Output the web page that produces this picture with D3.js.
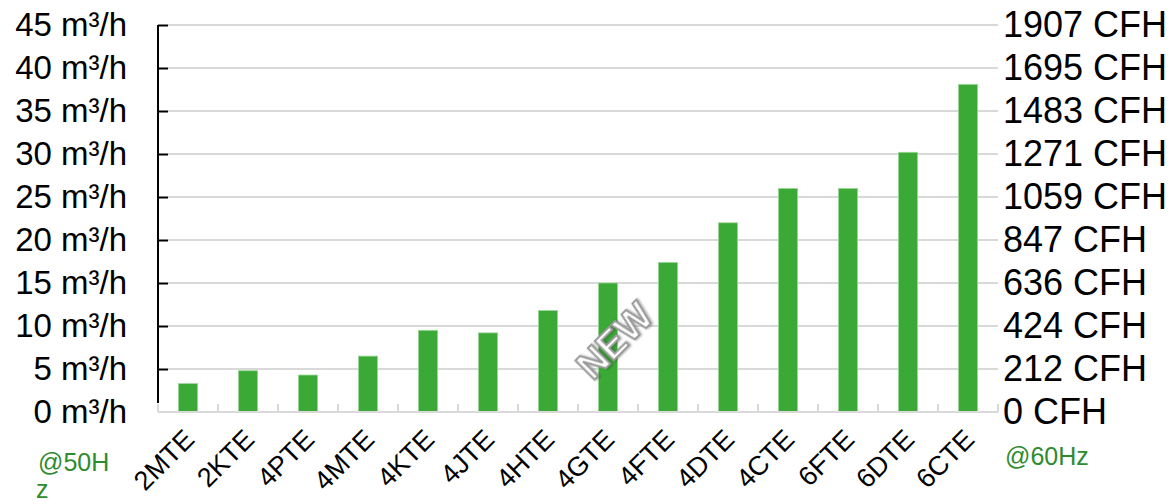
<!DOCTYPE html>
<html>
<head>
<meta charset="utf-8">
<script src="https://cdn.jsdelivr.net/npm/d3@7"></script>
<style>
  body { margin: 0; background: #fff; }
  text { font-family: "Liberation Sans", Arial, sans-serif; }
</style>
</head>
<body>
<svg id="chart" width="1171" height="504"></svg>
<script>
var models = ["2MTE", "2KTE", "4PTE", "4MTE", "4KTE", "4JTE", "4HTE", "4GTE", "4FTE", "4DTE", "4CTE", "6FTE", "6DTE", "6CTE"];
var flow = [3.3, 4.8, 4.3, 6.5, 9.5, 9.2, 11.8, 15.0, 17.4, 22.0, 26.0, 26.0, 30.2, 38.1];
var leftTicks = [0, 5, 10, 15, 20, 25, 30, 35, 40, 45];
var rightLabels = ["0 CFH", "212 CFH", "424 CFH", "636 CFH", "847 CFH", "1059 CFH", "1271 CFH", "1483 CFH", "1695 CFH", "1907 CFH"];

var barGreen = "#3aa935";
var textGreen = "#2e8b2e";
var gridGrey = "#d9d9d9";

var svg = d3.select("#chart"),
  margin = {top: 25, right: 173, bottom: 92, left: 158},
  width = +svg.attr("width") - margin.left - margin.right,
  height = +svg.attr("height") - margin.top - margin.bottom;

var g = svg.append("g")
    .attr("transform", "translate(" + margin.left + "," + margin.top + ")");

var x = d3.scaleBand()
    .domain(models)
    .range([0, width])
    .paddingInner(0.68)
    .paddingOuter(0.34);

var xCat = d3.scaleBand()
    .domain(models)
    .range([0, width]);

var y = d3.scaleLinear()
    .domain([0, 45])
    .range([height, 0]);

// gridlines
g.append("g")
  .selectAll("line")
  .data(leftTicks.slice(1))
  .enter().append("line")
    .attr("x1", 10)
    .attr("x2", width)
    .attr("y1", function(d) { return y(d); })
    .attr("y2", function(d) { return y(d); })
    .attr("stroke", gridGrey)
    .attr("stroke-width", 2);

// bars
g.append("g")
  .selectAll("rect")
  .data(flow)
  .enter().append("rect")
    .attr("x", function(d, i) { return x(models[i]); })
    .attr("y", function(d) { return y(d); })
    .attr("width", x.bandwidth())
    .attr("height", function(d) { return height - y(d); })
    .attr("fill", barGreen)
    .attr("stroke", "#9fd89b")
    .attr("stroke-width", 0.8);

// bottom axis (category separators)
var xAxis = g.append("g")
    .attr("transform", "translate(0," + height + ")");
xAxis.append("line")
    .attr("x1", 0).attr("x2", width)
    .attr("stroke", gridGrey)
    .attr("stroke-width", 2);
xAxis.selectAll(".sep")
  .data(models.concat(["end"]))
  .enter().append("line")
    .attr("class", "sep")
    .attr("x1", function(d, i) { return i * xCat.bandwidth(); })
    .attr("x2", function(d, i) { return i * xCat.bandwidth(); })
    .attr("y1", 0).attr("y2", -8)
    .attr("stroke", gridGrey)
    .attr("stroke-width", 2);

xAxis.selectAll(".lbl")
  .data(models)
  .enter().append("text")
    .attr("class", "lbl")
    .attr("text-anchor", "end")
    .attr("font-size", 27)
    .attr("fill", "#000")
    .attr("transform", function(d) {
      return "translate(" + (xCat(d) + xCat.bandwidth() / 2 + 8) + ",29) rotate(-45)";
    })
    .text(function(d) { return d; });

// left axis
var yAxis = d3.axisLeft(y)
    .tickValues(leftTicks)
    .tickSize(-10)
    .tickPadding(31)
    .tickFormat(function(d) { return d + " m³/h"; });

var ly = g.append("g").call(yAxis);
ly.select(".domain").remove();
ly.append("line")
    .attr("y1", y(45)).attr("y2", height - 9)
    .attr("stroke", "#000")
    .attr("stroke-width", 2);
ly.selectAll(".tick line")
    .attr("stroke", "#000")
    .attr("stroke-width", 2)
    .attr("display", function(d) { return d === 0 ? "none" : null; });
ly.selectAll(".tick text")
    .attr("font-size", 33)
    .attr("font-family", "Liberation Sans, Arial, sans-serif")
    .attr("fill", "#000");

// right axis
var yRight = d3.axisRight(y)
    .tickValues(leftTicks)
    .tickSize(0)
    .tickPadding(5)
    .tickFormat(function(d, i) { return rightLabels[i]; });

var ry = g.append("g")
    .attr("transform", "translate(" + width + ",0)")
    .call(yRight);
ry.select(".domain").remove();
ry.selectAll(".tick text")
    .attr("font-size", 36)
    .attr("font-family", "Liberation Sans, Arial, sans-serif")
    .attr("fill", "#000");

// frequency notes
svg.append("text")
    .attr("x", 38).attr("y", 471)
    .attr("font-size", 25)
    .attr("fill", textGreen)
    .text("@50H");
svg.append("text")
    .attr("x", 36).attr("y", 498)
    .attr("font-size", 25)
    .attr("fill", textGreen)
    .text("z");
svg.append("text")
    .attr("x", 1005).attr("y", 465)
    .attr("font-size", 25)
    .attr("fill", textGreen)
    .text("@60Hz");

// NEW stamp over 4GTE
svg.append("text")
    .attr("transform", "translate(" + (margin.left + xCat("4GTE") + xCat.bandwidth() / 2 + 9) + ",343) rotate(-45)")
    .attr("text-anchor", "middle")
    .attr("dominant-baseline", "middle")
    .attr("font-size", 38)
    .attr("font-weight", "bold")
    .attr("fill", "#fff")
    .attr("stroke", "#9a9a9a")
    .attr("stroke-width", 2)
    .style("filter", "drop-shadow(1px 1px 1px rgba(0,0,0,0.35))")
    .text("NEW");
</script>
</body>
</html>
